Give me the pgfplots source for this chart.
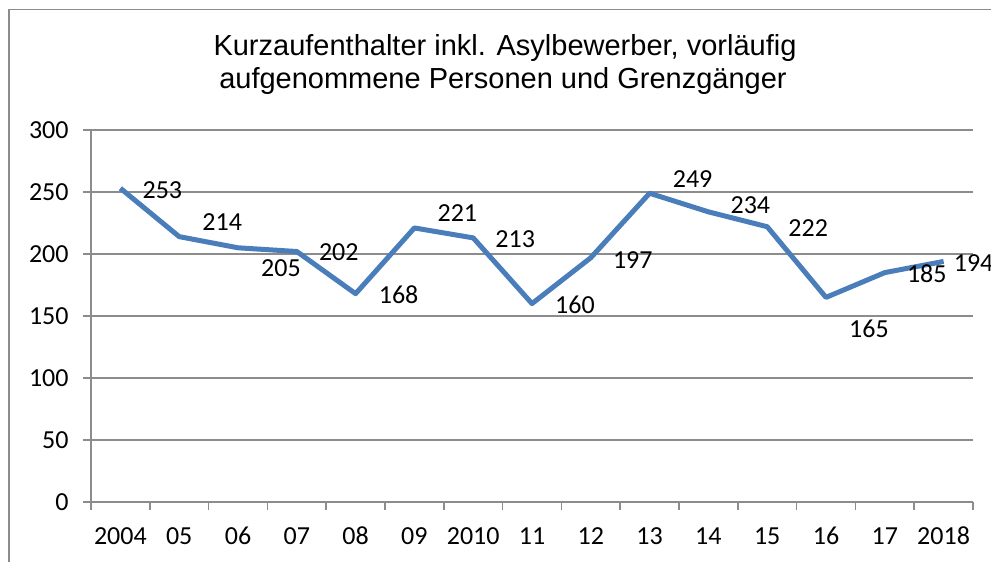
\documentclass[border=0pt]{standalone}
\usepackage{pgfplots}
\pgfplotsset{compat=1.18}
\usepackage{fontspec}
\setmainfont{Carlito}[Numbers=Lining]
\newfontfamily\arialf{Liberation Sans}
\definecolor{lineblue}{HTML}{4A7EBB}
\definecolor{gridgray}{HTML}{8C8C8C}
\definecolor{framegray}{HTML}{8C8C8C}
\pgfplotstableread{
x y dx dy lab
0 253 21 -1 253
1 214 21.5 7.5 214
2 205 21.5 -10 205
3 202 21 -0.5 202
4 168 21.5 -0.5 168
5 221 21.5 7.5 221
6 213 21 -0.5 213
7 160 21.5 -0.5 160
8 197 21 -1 197
9 249 21.5 7 249
10 234 21 3.5 234
11 222 20.5 -0.5 222
12 165 21.5 -15.5 165
13 185 21 -0.5 185
14 194 15 -1 194
}\datatable
\begin{document}
\begin{tikzpicture}
\useasboundingbox (-45.5pt,-30pt) rectangle (450pt,251pt);
\draw[framegray, line width=0.75pt] (-41pt,-60pt) -- (-41pt,246.3pt) -- (480pt,246.3pt);
\begin{axis}[
  at={(0pt,0pt)}, anchor=south west,
  scale only axis,
  width=441pt, height=186pt,
  xmin=-0.5, xmax=14.5,
  ymin=0, ymax=300,
  axis x line*=bottom, axis y line*=left,
  axis line style={gridgray, line width=0.75pt, -},
  ytick={0,50,...,300},
  ymajorgrids,
  major grid style={gridgray, line width=0.75pt},
  xtick={-0.5,0.5,...,14.5},
  xticklabels={2004,05,06,07,08,09,2010,11,12,13,14,15,16,17,2018,},
  xticklabel style={anchor=base, inner sep=0pt, xshift=14.7pt, yshift=-17.5pt},
  yticklabel style={anchor=east, inner sep=0pt, xshift=-7pt},
  tick align=outside,
  major tick length=4pt,
  tick style={gridgray, line width=0.75pt},
  ticklabel style={font=\fontsize{13}{15}\selectfont, black},
  /pgf/number format/assume math mode=true,
  clip=false,
]
\addplot[lineblue, line width=2.5pt, line join=round,
  nodes near coords,
  point meta=explicit symbolic,
  visualization depends on={\thisrow{dx} \as \dxv},
  visualization depends on={\thisrow{dy} \as \dyv},
  nodes near coords style={anchor=center, xshift=\dxv, yshift=\dyv, font=\fontsize{13}{15}\selectfont, black},
] table[x=x, y=y, meta=lab] {\datatable};
\end{axis}
\node[anchor=base, font=\arialf\fontsize{14.5}{16}\selectfont] at (207pt,223pt) {Kurzaufenthalter inkl. Asylbewerber, vorläufig};
\node[anchor=base, font=\arialf\fontsize{14.5}{16}\selectfont] at (206pt,206.8pt) {aufgenommene Personen und Grenzgänger};
\end{tikzpicture}
\end{document}
